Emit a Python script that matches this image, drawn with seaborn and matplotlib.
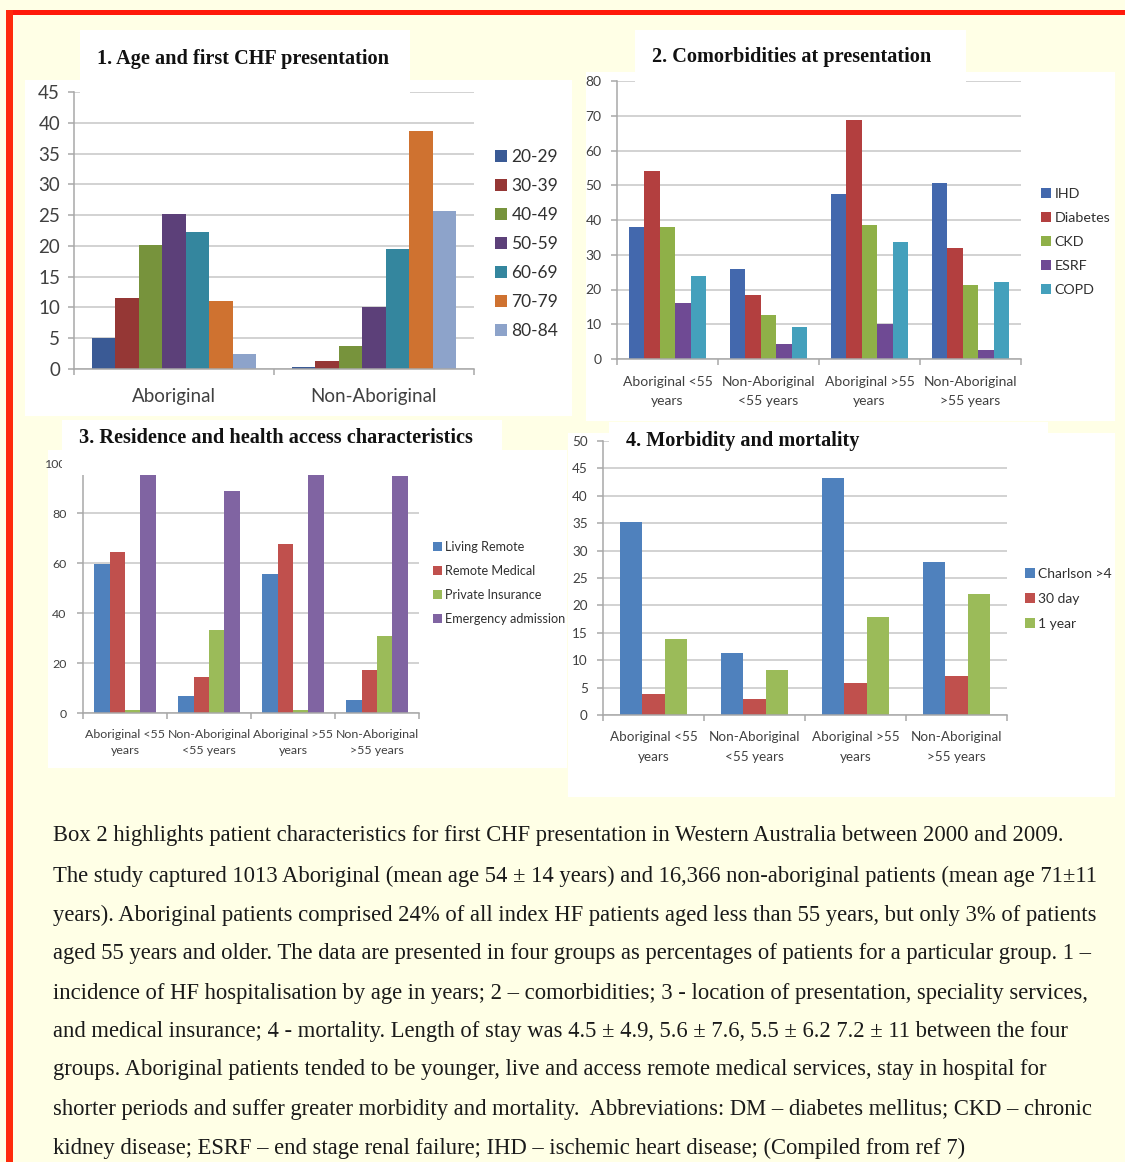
import numpy as np
import pandas as pd
import matplotlib
matplotlib.use("Agg")
import matplotlib.pyplot as plt
from matplotlib.patches import Rectangle
import seaborn as sns

# ---------------- data ----------------
age_groups = ["Aboriginal", "Non-Aboriginal"]
age_bands = ["20-29", "30-39", "40-49", "50-59", "60-69", "70-79", "80-84"]
age_aboriginal = [5.0, 11.5, 20.2, 25.2, 22.2, 11.1, 2.4]
age_non_aboriginal = [0.4, 1.35, 3.8, 10.05, 19.45, 38.7, 25.7]

groups4 = ["Aboriginal <55\nyears", "Non-Aboriginal\n<55 years",
           "Aboriginal >55\nyears", "Non-Aboriginal\n>55 years"]

comorb_names = ["IHD", "Diabetes", "CKD", "ESRF", "COPD"]
ihd = [38.1, 26.0, 47.5, 50.6]
diabetes = [54.2, 18.4, 68.9, 31.9]
ckd = [38.1, 12.7, 38.7, 21.4]
esrf = [16.0, 4.4, 10.0, 2.6]
copd = [23.8, 9.3, 33.7, 22.2]

access_names = ["Living Remote", "Remote Medical", "Private Insurance", "Emergency admission"]
living_remote = [59.6, 6.9, 55.6, 5.1]
remote_medical = [64.4, 14.5, 67.7, 17.3]
private_insurance = [1.3, 33.3, 1.3, 30.9]
emergency_admission = [95.3, 88.7, 95.3, 94.7]

outcome_names = ["Charlson >4", "30 day", "1 year"]
charlson = [35.3, 11.25, 43.3, 27.9]
mortality_30day = [3.8, 3.0, 5.9, 7.1]
mortality_1year = [13.9, 8.2, 17.9, 22.0]

titles = ["1. Age and first CHF presentation", "2. Comorbidities at presentation",
          "3. Residence and health access characteristics", "4. Morbidity and mortality"]

caption_lines = [
    "Box 2 highlights patient characteristics for first CHF presentation in Western Australia between 2000 and 2009.",
    "The study captured 1013 Aboriginal (mean age 54 \u00b1 14 years) and 16,366 non-aboriginal patients (mean age 71\u00b111",
    "years). Aboriginal patients comprised 24% of all index HF patients aged less than 55 years, but only 3% of patients",
    "aged 55 years and older. The data are presented in four groups as percentages of patients for a particular group. 1 \u2013",
    "incidence of HF hospitalisation by age in years; 2 \u2013 comorbidities; 3 - location of presentation, speciality services,",
    "and medical insurance; 4 - mortality. Length of stay was 4.5 \u00b1 4.9, 5.6 \u00b1 7.6, 5.5 \u00b1 6.2 7.2 \u00b1 11 between the four",
    "groups. Aboriginal patients tended to be younger, live and access remote medical services, stay in hospital for",
    "shorter periods and suffer greater morbidity and mortality.  Abbreviations: DM \u2013 diabetes mellitus; CKD \u2013 chronic",
    "kidney disease; ESRF \u2013 end stage renal failure; IHD \u2013 ischemic heart disease; (Compiled from ref 7)",
]

# ---------------- styles ----------------
age_colors = ["#3A5A95", "#953735", "#77933C", "#5C4079", "#34869E", "#CF7230", "#8DA3CA"]
comorb_colors = ["#4368AD", "#B33F3F", "#8FB048", "#6F4A94", "#44A0BC"]
access_colors = ["#4F81BD", "#C0504D", "#9BBB59", "#8064A2"]
outcome_colors = ["#4F81BD", "#C0504D", "#9BBB59"]

W, H = 1125, 1162
CREAM = "#FFFFE6"
plt.rcParams["font.family"] = ["Lato", "DejaVu Sans"]

fig = plt.figure(figsize=(W / 100, H / 100), dpi=100, facecolor=CREAM)


def fbox(x0, y0, x1, y1):
    return [x0 / W, 1 - y1 / H, (x1 - x0) / W, (y1 - y0) / H]


def rect(x0, y0, x1, y1, color, z):
    fig.add_artist(Rectangle((x0 / W, 1 - y1 / H), (x1 - x0) / W, (y1 - y0) / H,
                             transform=fig.transFigure, facecolor=color,
                             edgecolor="none", zorder=z))


# red frame
rect(6, 10, W, 15, "#FF1A0A", 5)
rect(6, 10, 13, H, "#FF2A0A", 5)

# white chart backgrounds (below axes)
rect(25, 80, 572, 416, "white", -1)
rect(586, 72, 1115, 421, "white", -1)
rect(48, 450, 567, 768, "white", -1)
rect(568, 433, 1115, 797, "white", -1)

# white title boxes (above axes, they hide the top gridlines as in the original)
rect(80, 30, 410, 95, "white", 2)
rect(635, 30, 966, 86, "white", 2)
rect(62, 420, 502, 475, "white", 2)
rect(609, 422, 1048, 458, "white", 2)

title_pos = [(243, 59), (792, 57), (276, 438), (743, 441)]
for t, (x, y) in zip(titles, title_pos):
    fig.text(x / W, 1 - y / H, t, ha="center", va="center", fontsize=14.6,
             fontweight="bold", family=["Liberation Serif", "DejaVu Serif"],
             color="#111111", zorder=6)


def panel(box, groups, names, series, colors, ylim, yticks, width,
          tick_fs, leg_xy, leg_fs, leg_space, xpad, ypad, linesp):
    ax = fig.add_axes(fbox(*box))
    ax.set_facecolor("none")
    rows = []
    for name, vals in zip(names, series):
        for g, v in zip(groups, vals):
            rows.append({"group": g, "series": name, "value": v})
    df = pd.DataFrame(rows)
    sns.barplot(data=df, x="group", y="value", hue="series", order=groups,
                hue_order=names, palette=colors, saturation=1, width=width,
                gap=0, linewidth=0, errorbar=None, ax=ax)
    n = len(groups)
    ax.set_xlim(-0.5, n - 0.5)
    ax.set_ylim(*ylim)
    ax.set_yticks(yticks)
    ax.set_yticklabels([str(v) for v in yticks])
    ax.set_xticks(range(n))
    ax.set_xticklabels(groups)
    ax.set_xticks(np.arange(-0.5, n), minor=True)
    ax.set_xlabel("")
    ax.set_ylabel("")
    ax.yaxis.grid(True, color="#C6C6C6", linewidth=1.1)
    ax.xaxis.grid(False)
    ax.set_axisbelow(True)
    for s in ["top", "right"]:
        ax.spines[s].set_visible(False)
    for s in ["left", "bottom"]:
        ax.spines[s].set_color("#A8A8A8")
        ax.spines[s].set_linewidth(1.1)
    ax.tick_params(axis="x", which="major", length=0, pad=xpad,
                   labelsize=tick_fs, labelcolor="#404040")
    ax.tick_params(axis="x", which="minor", length=4.5, color="#A8A8A8",
                   width=1.1, direction="out", bottom=True)
    ax.tick_params(axis="y", length=4, color="#A8A8A8", width=1.1,
                   direction="out", pad=ypad, labelsize=tick_fs,
                   labelcolor="#404040", left=True)
    for t in ax.get_xticklabels():
        t.set_linespacing(linesp)
    handles, labels = ax.get_legend_handles_labels()
    ax.legend(handles, labels, loc="center left",
              bbox_to_anchor=(leg_xy[0] / W, 1 - leg_xy[1] / H),
              bbox_transform=fig.transFigure, frameon=False, fontsize=leg_fs,
              handlelength=0.7, handleheight=0.7, handletextpad=0.25,
              labelspacing=leg_space, borderpad=0, borderaxespad=0,
              labelcolor="#303030")
    return ax


panel((74, 92, 474, 369), age_groups, age_bands,
      [[a, b] for a, b in zip(age_aboriginal, age_non_aboriginal)],
      age_colors, (0, 45), list(range(0, 46, 5)), 0.82,
      13.5, (495, 244), 12.5, 0.75, 14, 6, 1.2)

panel((617, 81, 1021, 359), groups4, comorb_names,
      [ihd, diabetes, ckd, esrf, copd], comorb_colors, (0, 80),
      list(range(0, 81, 10)), 0.77, 10, (1041, 242), 10.3, 0.85, 12.5, 7, 1.7)

panel((83, 463, 419, 713), groups4, access_names,
      [living_remote, remote_medical, private_insurance, emergency_admission],
      access_colors, (0, 100), list(range(0, 101, 20)), 0.73, 8.9,
      (433, 583), 9.1, 0.95, 11.5, 8, 1.55)

panel((603, 441, 1007, 715), groups4, outcome_names,
      [charlson, mortality_30day, mortality_1year], outcome_colors, (0, 50),
      list(range(0, 51, 5)), 0.66, 9.7, (1025, 599), 10, 0.95, 11.5, 7, 1.8)

line_y = [836, 876, 915, 954, 993, 1031, 1070, 1109, 1148]
for txt, y in zip(caption_lines, line_y):
    fig.text(53 / W, 1 - y / H, txt, ha="left", va="center", fontsize=16.25,
             family=["Liberation Serif", "DejaVu Serif"], color="#1A1A1A")

fig.savefig("out.png", dpi=100, facecolor=CREAM)
